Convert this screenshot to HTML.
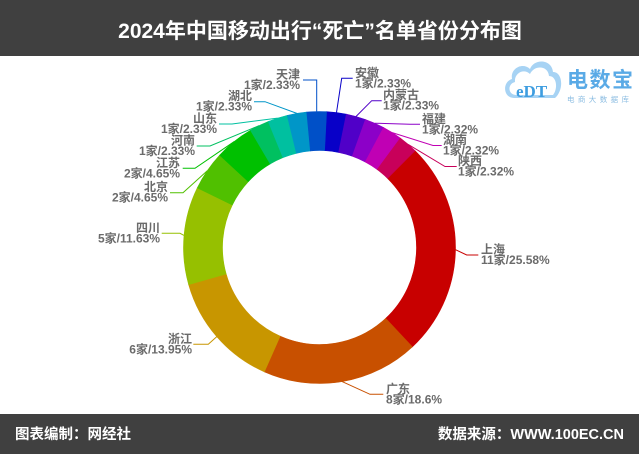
<!DOCTYPE html>
<html>
<head>
<meta charset="utf-8">
<style>
  html,body{margin:0;padding:0;background:#fff;}
  body{width:639px;height:454px;overflow:hidden;}
  svg{display:block;}
  .lbl{font-family:"Liberation Sans","Noto Sans CJK SC",sans-serif;font-size:12px;font-weight:bold;fill:#6b6b6b;}
</style>
</head>
<body>
<svg width="639" height="454" viewBox="0 0 639 454" xmlns="http://www.w3.org/2000/svg">
  <rect x="0" y="0" width="639" height="454" fill="#ffffff"/>
  <!-- title bar -->
  <rect x="0" y="0" width="639" height="56" fill="#404040"/>
  <text x="320" y="38" text-anchor="middle" font-family="'Liberation Sans','Noto Sans CJK SC',sans-serif" font-size="21" font-weight="bold" fill="#ffffff">2024年中国移动出行“死亡”名单省份分布图</text>

  <!-- footer bar -->
  <rect x="0" y="414" width="639" height="40" fill="#404040"/>
  <text x="15" y="439" font-family="'Liberation Sans','Noto Sans CJK SC',sans-serif" font-size="14.5" font-weight="bold" fill="#ffffff">图表编制：网经社</text>
  <text x="624" y="439" text-anchor="end" font-family="'Liberation Sans','Noto Sans CJK SC',sans-serif" font-size="14.5" font-weight="bold" fill="#ffffff">数据来源：WWW.100EC.CN</text>

  <!-- logo -->
  <g>
    <path d="M514,98 C503,98 502,82 512,79 C510,68 523,62 530,69 C534,58 552,59 553,72 C563,72 564,90 555,98 Z" fill="#a7d3f4"/>
    <path d="M516,95 C508,95 507,84 515,82 C514,73 524,68 530,74 C534,65 548,65 549,76 C557,76 558,89 553,95 Z" fill="#ffffff"/>
    <text x="516" y="97" font-family="'Liberation Serif',serif" font-size="17" font-weight="bold" fill="#3e9de0">eDT</text>
    <text x="567" y="87" font-family="'Liberation Sans','Noto Sans CJK SC',sans-serif" font-size="21" font-weight="bold" fill="#5aaae6" letter-spacing="1.5">电数宝</text>
    <text x="567" y="102" font-family="'Liberation Sans','Noto Sans CJK SC',sans-serif" font-size="7.5" fill="#8cbde2" letter-spacing="3.4">电商大数据库</text>
  </g>

  <!-- donut slices -->
  <g stroke-width="0.6">
    <path d="M326.62,111.69 A136,136 0 0 1 346.32,114.17 L338.63,152.41 A97,97 0 0 0 324.58,150.63 Z" fill="#0800c8" stroke="#0800c8"/>
    <path d="M346.32,114.17 A136,136 0 0 1 365.44,119.50 L352.27,156.20 A97,97 0 0 0 338.63,152.41 Z" fill="#5000c8" stroke="#5000c8"/>
    <path d="M365.44,119.50 A136,136 0 0 1 383.59,127.55 L365.21,161.95 A97,97 0 0 0 352.27,156.20 Z" fill="#8c00c8" stroke="#8c00c8"/>
    <path d="M383.59,127.55 A136,136 0 0 1 400.37,138.16 L377.18,169.51 A97,97 0 0 0 365.21,161.95 Z" fill="#c000b4" stroke="#c000b4"/>
    <path d="M400.37,138.16 A136,136 0 0 1 415.43,151.10 L387.92,178.74 A97,97 0 0 0 377.18,169.51 Z" fill="#c8005a" stroke="#c8005a"/>
    <path d="M415.43,151.10 A136,136 0 0 1 412.33,346.89 L385.71,318.39 A97,97 0 0 0 387.92,178.74 Z" fill="#c80000" stroke="#c80000"/>
    <path d="M412.33,346.89 A136,136 0 0 1 264.34,371.81 L280.16,336.16 A97,97 0 0 0 385.71,318.39 Z" fill="#c85000" stroke="#c85000"/>
    <path d="M264.34,371.81 A136,136 0 0 1 188.66,284.61 L226.18,273.97 A97,97 0 0 0 280.16,336.16 Z" fill="#c89600" stroke="#c89600"/>
    <path d="M188.66,284.61 A136,136 0 0 1 197.29,187.83 L232.33,204.94 A97,97 0 0 0 226.18,273.97 Z" fill="#96c000" stroke="#96c000"/>
    <path d="M197.29,187.83 A136,136 0 0 1 219.66,155.15 L248.29,181.63 A97,97 0 0 0 232.33,204.94 Z" fill="#50c000" stroke="#50c000"/>
    <path d="M219.66,155.15 A136,136 0 0 1 250.50,130.31 L270.29,163.91 A97,97 0 0 0 248.29,181.63 Z" fill="#00c000" stroke="#00c000"/>
    <path d="M250.50,130.31 A136,136 0 0 1 268.30,121.51 L282.98,157.64 A97,97 0 0 0 270.29,163.91 Z" fill="#00c060" stroke="#00c060"/>
    <path d="M268.30,121.51 A136,136 0 0 1 287.19,115.39 L296.45,153.28 A97,97 0 0 0 282.98,157.64 Z" fill="#00c0a0" stroke="#00c0a0"/>
    <path d="M287.19,115.39 A136,136 0 0 1 306.77,112.10 L310.42,150.93 A97,97 0 0 0 296.45,153.28 Z" fill="#0096c8" stroke="#0096c8"/>
    <path d="M306.77,112.10 A136,136 0 0 1 326.62,111.69 L324.58,150.63 A97,97 0 0 0 310.42,150.93 Z" fill="#0050c8" stroke="#0050c8"/>
  </g>

  <!-- leader lines -->
  <g fill="none" stroke-width="1">
    <polyline points="336.5,112.6 341.7,78.3 352.7,78.3" stroke="#0800c8"/>
    <polyline points="356.0,116.5 371.7,100.7 381.7,100.7" stroke="#5000c8"/>
    <polyline points="374.7,123.2 410,124.3 420,124.3" stroke="#8c00c8"/>
    <polyline points="392.2,132.6 433,145.5 441.7,145.5" stroke="#c000b4"/>
    <polyline points="408.2,144.4 445,166.5 456.7,166.5" stroke="#c8005a"/>
    <polyline points="455.5,249.7 466.7,255 478.3,255" stroke="#c80000"/>
    <polyline points="342.1,381.6 370,394.3 383.3,394.3" stroke="#c85000"/>
    <polyline points="216.8,336.6 208.3,344.3 193.3,344.3" stroke="#c89600"/>
    <polyline points="184.0,235.4 180,233.3 161.7,233.3" stroke="#96c000"/>
    <polyline points="207.3,170.7 183,192.7 170,192.7" stroke="#50c000"/>
    <polyline points="234.2,141.6 195,168.3 182.7,168.3" stroke="#00c000"/>
    <polyline points="259.2,125.6 210,146 196.7,146" stroke="#00c060"/>
    <polyline points="277.6,118.1 232,124 219,124" stroke="#00c0a0"/>
    <polyline points="296.9,113.4 265,101.7 254,101.7" stroke="#0096c8"/>
    <polyline points="316.7,111.5 316.7,80 303,80" stroke="#0050c8"/>
  </g>

  <!-- labels right side -->
  <g class="lbl">
    <text x="355" y="76.8">安徽</text><text x="355" y="87.3">1家/2.33%</text>
    <text x="383" y="99.2">内蒙古</text><text x="383" y="109.7">1家/2.33%</text>
    <text x="422" y="122.8">福建</text><text x="422" y="133.3">1家/2.32%</text>
    <text x="443" y="144">湖南</text><text x="443" y="154.5">1家/2.32%</text>
    <text x="458" y="165">陕西</text><text x="458" y="175.5">1家/2.32%</text>
    <text x="481" y="253.5">上海</text><text x="481" y="264">11家/25.58%</text>
    <text x="386" y="392.8">广东</text><text x="386" y="403.3">8家/18.6%</text>
  </g>
  <!-- labels left side -->
  <g class="lbl" text-anchor="end">
    <text x="300" y="78.5">天津</text><text x="300" y="89">1家/2.33%</text>
    <text x="252" y="100.2">湖北</text><text x="252" y="110.7">1家/2.33%</text>
    <text x="217" y="122.5">山东</text><text x="217" y="133">1家/2.33%</text>
    <text x="195" y="144.5">河南</text><text x="195" y="155">1家/2.33%</text>
    <text x="180" y="166.8">江苏</text><text x="180" y="177.3">2家/4.65%</text>
    <text x="168" y="191.2">北京</text><text x="168" y="201.7">2家/4.65%</text>
    <text x="160" y="231.8">四川</text><text x="160" y="242.3">5家/11.63%</text>
    <text x="192" y="342.8">浙江</text><text x="192" y="353.3">6家/13.95%</text>
  </g>
</svg>
</body>
</html>
